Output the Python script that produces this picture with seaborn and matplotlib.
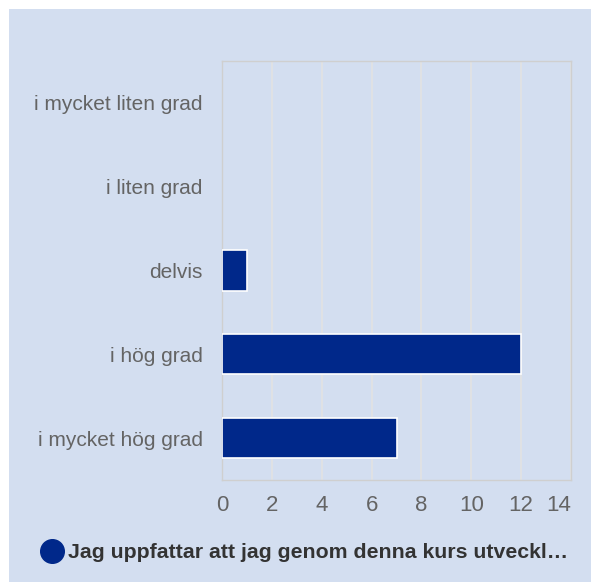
import matplotlib
matplotlib.use("Agg")
import matplotlib.pyplot as plt
import matplotlib.patches as mpatches
from matplotlib.lines import Line2D
import seaborn as sns
import pandas as pd

# Data
categories = ["i mycket liten grad", "i liten grad", "delvis", "i hög grad", "i mycket hög grad"]
counts = [0, 0, 1, 12, 7]
series_name = "Jag uppfattar att jag genom denna kurs utveckl…"
x_ticks = [0, 2, 4, 6, 8, 10, 12, 14]

BG = "#D3DEF0"
BAR = "#00288A"
TXT = "#646464"

df = pd.DataFrame({"Svar": categories, "Antal": counts})

sns.set_theme(style="white")
plt.rcParams["font.family"] = ["Liberation Sans", "DejaVu Sans"]

fig = plt.figure(figsize=(5.91, 5.82), dpi=100, facecolor="white")
# light blue chart area, white strip at top/left
fig.patches.append(mpatches.Rectangle((9 / 591, 0), 1, 1 - 9 / 582,
                                      transform=fig.transFigure,
                                      facecolor=BG, edgecolor="none", zorder=-10))

ax = fig.add_axes([222 / 591, 102 / 582, 349 / 591, 419 / 582])
ax.set_facecolor(BG)

sns.barplot(data=df, y="Svar", x="Antal", order=categories, color=BAR,
            width=0.48, saturation=1, edgecolor="white", linewidth=1.2,
            ax=ax, zorder=3)
# no outline for empty bars
for p in ax.patches:
    if p.get_width() == 0:
        p.set_linewidth(0)

ax.set_xlim(0, 14)
ax.set_xticks(x_ticks)
ax.set_xticklabels([str(t) for t in x_ticks])
ax.xaxis.grid(True, color="#E2E2E2", linewidth=1.2, zorder=0)
ax.yaxis.grid(False)
ax.set_axisbelow(True)
for s in ax.spines.values():
    s.set_color("#CFCFCF")
    s.set_linewidth(1.0)

ax.set_xlabel("")
ax.set_ylabel("")
ax.tick_params(axis="x", colors=TXT, labelsize=16, length=0, pad=11)
ax.tick_params(axis="y", colors=TXT, labelsize=15, length=0, pad=14)
last = ax.get_xticklabels()[-1]
last.set_horizontalalignment("right")

# legend
handle = Line2D([], [], marker="o", linestyle="none", markersize=17,
                markerfacecolor=BAR, markeredgecolor=BAR)
leg = fig.legend([handle], [series_name], loc="center",
                 bbox_to_anchor=(0.507, 29 / 582), frameon=False,
                 handletextpad=-0.25, borderaxespad=0,
                 prop={"weight": "bold", "size": 15.3})
for t in leg.get_texts():
    t.set_color("#333333")

fig.savefig("out.png", dpi=100, facecolor="white")
